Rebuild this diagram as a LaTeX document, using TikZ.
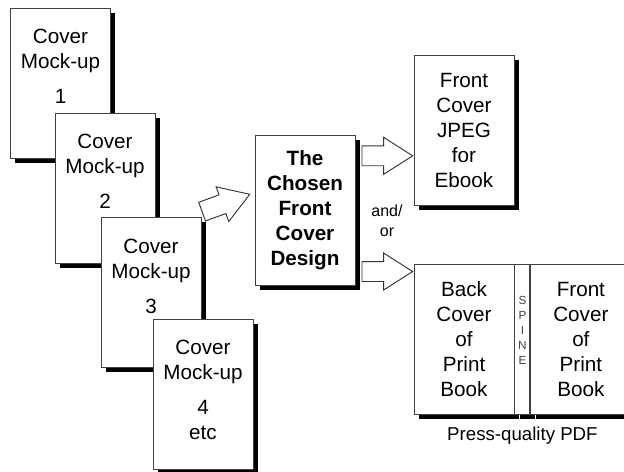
\documentclass[tikz,border=0pt]{standalone}
\usepackage{fontspec}
\setmainfont{Liberation Sans}
\usetikzlibrary{positioning, shapes.arrows, shadows}
\tikzset{
    cover/.style={
        draw=black!75,
        line width=0.7pt,
        fill=white,
        minimum width=75pt,
        minimum height=112.5pt,
        inner sep=0pt,
        align=center,
        font=\fontsize{15.5}{18.75}\selectfont,
        general shadow={fill=black, shadow xshift=3.5pt, shadow yshift=-3.5pt}
    },
    mocktext/.style={
        inner sep=0pt,
        align=center,
        font=\fontsize{15.5}{18.75}\selectfont
    },
    fatarrow/.style={
        single arrow,
        draw=black!80,
        line width=0.7pt,
        fill=white,
        inner xsep=0pt,
        inner ysep=7.1pt,
        minimum height=38pt,
        minimum width=27pt,
        single arrow head extend=6.4pt,
        single arrow tip angle=65
    }
}

\begin{document}
\begin{tikzpicture}[x=0.75pt, y=-0.75pt]
            \path [use as bounding box, clip] (0,0) rectangle (624,471);

            % Mock-ups
            \node (mock1) [cover] at (60.5,83) {};
            \node (mock1txt) [mocktext, below=16pt of mock1.north] {Cover\\Mock-up\\[7.5pt]1};
            \node (mock2) [cover] at (105,188) {};
            \node (mock2txt) [mocktext, below=16pt of mock2.north] {Cover\\Mock-up\\[7.5pt]2};
            \node (mock3) [cover] at (151,292.5) {};
            \node (mock3txt) [mocktext, below=16pt of mock3.north] {Cover\\Mock-up\\[7.5pt]3};
            \node (mock4) [cover] at (203,394) {};
            \node (mock4txt) [mocktext, below=16pt of mock4.north] {Cover\\Mock-up\\[7.5pt]4\\etc};

            % Chosen design
            \node (chosen) [
                cover,
                font=\fontsize{15.5}{18.75}\selectfont\bfseries
            ] at (305,210) {The\\Chosen\\Front\\Cover\\Design};

            % Outputs
            \node (jpeg) [cover] at (464,130.5) {Front\\Cover\\JPEG\\for\\Ebook};
            \node (back) [cover] at (464,339) {Back\\Cover\\of\\Print\\Book};
            \node (spine) [
                cover,
                minimum width=11.25pt,
                right=0pt of back
            ] {};
            \node (front) [cover, right=0pt of spine] {Front\\Cover\\of\\Print\\Book};
            \node (spinetxt) [
                inner sep=0pt,
                align=center,
                text=black!75,
                font=\fontsize{8.8}{11.25}\selectfont
            ] at ([yshift=6.75pt]spine.center) {S\\P\\I\\N\\E};

            % Arrows
            \node (pick) [fatarrow, rotate=20, anchor=tip] at ([shift={(-3pt,12pt)}]chosen.west) {};
            \node (toJpeg) [fatarrow, anchor=tip] at ([yshift=-19pt]jpeg.west) {};
            \node (toPrint) [fatarrow, anchor=tip] at ([yshift=-6pt]back.north west) {};

            % Labels
            \node (andor) [
                inner sep=0pt,
                align=center,
                font=\fontsize{12}{15}\selectfont
            ] at (387,221) {and/\\or};
            \node (pdf) [
                inner sep=0pt,
                font=\fontsize{14}{17}\selectfont,
                below=9pt of spine.south
            ] {Press-quality PDF};
\end{tikzpicture}
\end{document}
